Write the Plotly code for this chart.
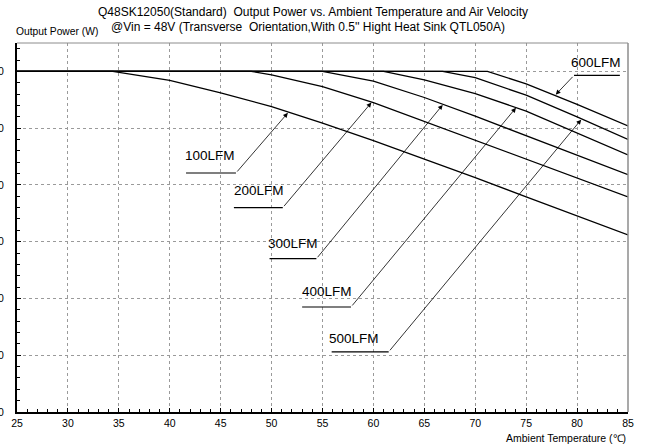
import plotly.graph_objects as go

FONT = "Liberation Sans, Arial, sans-serif"

# ---- data ----
series_names = ["100LFM", "200LFM", "300LFM", "400LFM", "500LFM", "600LFM"]
temp_100 = [25, 34.4, 40, 45, 50, 55, 60, 65, 70, 75, 80, 85]
power_100 = [600, 600, 584, 562, 538, 509, 478, 446, 413, 379, 345, 312]
temp_200 = [25, 48, 50, 55, 60, 65, 70, 75, 80, 85]
power_200 = [600, 600, 594, 573, 545, 512, 479, 445, 412, 379]
temp_300 = [25, 55, 60, 65, 70, 75, 80, 85]
power_300 = [600, 600, 583, 554, 521, 487, 452, 418]
temp_400 = [25, 61, 65, 70, 75, 80, 85]
power_400 = [600, 600, 585, 561, 530, 492, 453]
temp_500 = [25, 66.8, 70, 75, 80, 85]
power_500 = [600, 600, 589, 558, 520, 480]
temp_600 = [25, 71.2, 75, 80, 85]
power_600 = [600, 600, 578, 542, 504]

x_ticks = list(range(25, 90, 5))
y_ticks = list(range(0, 700, 100))

# label annotation anchors (data coords): text centre, underline span, arrow tip
label_text_x = [44.0, 48.8, 52.1, 55.4, 58.1, 81.9]
label_text_y = [452, 390, 297, 213, 130, 615]
underline_x0 = [41.6, 46.3, 49.8, 53.0, 55.9, 79.7]
underline_x1 = [46.5, 51.1, 54.4, 57.8, 61.5, 84.2]
underline_y = [421, 360, 270, 185, 106, 593]
tail_x = [46.5, 51.1, 54.4, 57.8, 61.5, 79.7]
tip_x = [51.6, 59.8, 66.8, 74.0, 80.4, 77.9]
tip_y = [527, 545, 541, 536, 515, 559]

temps = [temp_100, temp_200, temp_300, temp_400, temp_500, temp_600]
powers = [power_100, power_200, power_300, power_400, power_500, power_600]

fig = go.Figure()
for name, t, p in zip(series_names, temps, powers):
    fig.add_trace(go.Scatter(x=t, y=p, mode="lines", name=name,
                             line=dict(color="black", width=1.3),
                             showlegend=False, hoverinfo="skip"))

annotations = []
shapes = []
for i, name in enumerate(series_names):
    annotations.append(dict(x=label_text_x[i], y=label_text_y[i], xref="x", yref="y",
                            text=name, showarrow=False, xanchor="center", yanchor="middle",
                            font=dict(family=FONT, size=13.5, color="black")))
    shapes.append(dict(type="line", xref="x", yref="y",
                       x0=underline_x0[i], x1=underline_x1[i],
                       y0=underline_y[i], y1=underline_y[i],
                       line=dict(color="black", width=1.2)))
    annotations.append(dict(x=tip_x[i], y=tip_y[i], xref="x", yref="y",
                            ax=tail_x[i], ay=underline_y[i], axref="x", ayref="y",
                            text="", showarrow=True, arrowhead=2, arrowsize=1.2,
                            arrowwidth=0.8, arrowcolor="black"))

H, T, B, L, R = 447, 43, 35, 17, 20
ph = H - T - B
pw = 648 - L - R
def paper_y(py):
    return (H - B - py) / ph
def paper_x(px):
    return (px - L) / pw

annotations.append(dict(x=paper_x(313), y=paper_y(12), xref="paper", yref="paper",
                        xanchor="center", yanchor="middle",
                        text="Q48SK12050(Standard)  Output Power vs. Ambient Temperature and Air Velocity",
                        showarrow=False, font=dict(family=FONT, size=12, color="black")))
annotations.append(dict(x=paper_x(307.5), y=paper_y(27), xref="paper", yref="paper",
                        xanchor="center", yanchor="middle",
                        text="@Vin = 48V (Transverse  Orientation,With 0.5'' Hight Heat Sink QTL050A)",
                        showarrow=False, font=dict(family=FONT, size=12, color="black")))
annotations.append(dict(x=paper_x(14), y=paper_y(31), xref="paper", yref="paper",
                        xanchor="left", yanchor="middle",
                        text="Output Power (W)", showarrow=False,
                        font=dict(family=FONT, size=10.3, color="black")))
annotations.append(dict(x=paper_x(628), y=paper_y(438), xref="paper", yref="paper",
                        xanchor="right", yanchor="middle",
                        text="Ambient Temperature (℃)", showarrow=False,
                        font=dict(family=FONT, size=10.5, color="black")))

# top and right frame (grey)
shapes.append(dict(type="line", xref="paper", yref="paper", x0=0, x1=1, y0=1, y1=1,
                   line=dict(color="#8c8c8c", width=1)))
shapes.append(dict(type="line", xref="paper", yref="paper", x0=1, x1=1, y0=0, y1=1,
                   line=dict(color="#8c8c8c", width=1.5)))

fig.update_layout(
    width=648, height=447,
    margin=dict(l=L, r=R, t=T, b=B, autoexpand=False),
    paper_bgcolor="white", plot_bgcolor="white",
    font=dict(family=FONT, size=10.5, color="black"),
    annotations=annotations, shapes=shapes,
    xaxis=dict(range=[25, 85], tickvals=x_ticks, ticks="inside", ticklen=4, tickwidth=1.3,
               tickcolor="black", showline=True, linecolor="black", linewidth=2,
               showgrid=True, gridcolor="#9a9a9a", griddash="dot", gridwidth=1,
               zeroline=False, tickfont=dict(family=FONT, size=10.5), automargin=False,
               minor=dict(dtick=1, ticks="inside", ticklen=3, tickcolor="black", showgrid=False)),
    yaxis=dict(range=[0, 650], tickvals=y_ticks, ticks="inside", ticklen=4, tickwidth=1.3,
               tickcolor="black", showline=True, linecolor="black", linewidth=2,
               showgrid=True, gridcolor="#9a9a9a", griddash="dot", gridwidth=1,
               zeroline=False, tickfont=dict(family=FONT, size=10.5), ticklabelstandoff=9,
               automargin=False,
               minor=dict(dtick=20, ticks="inside", ticklen=3, tickcolor="black", showgrid=False)),
)

fig.write_html("out.html")
